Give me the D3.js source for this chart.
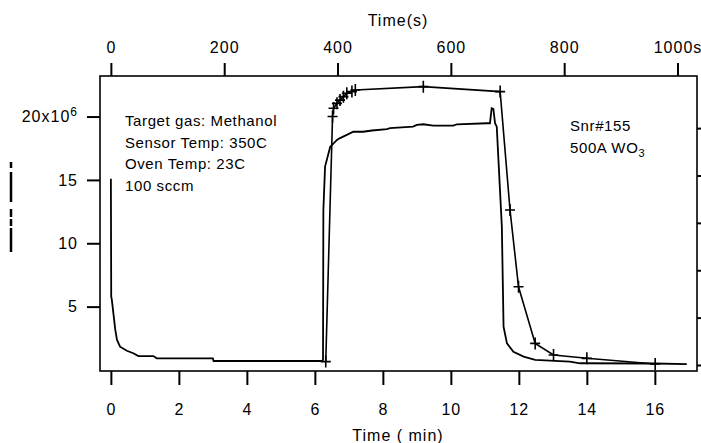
<!DOCTYPE html>
<html>
<head>
<meta charset="utf-8">
<script src="https://cdn.jsdelivr.net/npm/d3@7"></script>
<style>
  body { margin: 0; background: #fff; }
  svg { font-family: "Liberation Sans", Arial, sans-serif; }
  .axis path.domain { display: none; }
  .axis line { stroke: #000; stroke-width: 2; }
  .axis text { font-size: 16px; fill: #000; letter-spacing: 1px; }
</style>
</head>
<body>
<svg id="chart" width="701" height="443"></svg>
<script>
// sensor response without markers (time in min, value in units of 1e6)
var respTime = [0, 0.01, 0.03, 0.13, 0.18, 0.27, 0.47, 0.66, 0.81, 1.25,
  1.35, 3.0, 3.02, 6.2, 6.24, 6.25, 6.3, 6.45, 6.65, 6.74,
  6.94, 7.13, 7.42, 7.68, 8.12, 8.21, 8.89, 9.0, 9.19, 9.48,
  10.07, 10.18, 11.06, 11.15, 11.2, 11.25, 11.3, 11.35, 11.5, 11.55,
  11.65, 11.84, 12.14, 12.48, 13.5, 13.8, 16.0, 16.94];
var respValue = [15.1, 5.8, 5.5, 3.16, 2.37, 1.84, 1.52, 1.32, 1.1, 1.1,
  0.92, 0.92, 0.71, 0.71, 0.79, 12.6, 16.05, 17.6, 18.15, 18.3,
  18.55, 18.8, 18.8, 18.9, 19.0, 19.08, 19.2, 19.34, 19.39, 19.28,
  19.28, 19.39, 19.47, 19.47, 20.65, 20.6, 19.47, 19.2, 11.3, 3.42,
  2.1, 1.44, 1.05, 0.79, 0.66, 0.53, 0.51, 0.47];

// series drawn with + markers
var markTime = [6.32, 6.52, 6.55, 6.65, 6.74, 6.84, 6.94, 7.09, 7.19, 9.19,
  11.45, 11.74, 11.99, 12.48, 13.02, 14.0, 16.01];
var markValue = [0.66, 20.0, 20.65, 21.04, 21.3, 21.57, 21.84, 21.97, 22.1, 22.36,
  21.97, 12.63, 6.57, 2.1, 1.18, 0.92, 0.47];

var minTicks = [0, 2, 4, 6, 8, 10, 12, 14, 16];
var secTicks = [0, 200, 400, 600, 800, 1000];
var leftTicks = [5, 10, 15, 20];
var rightTicks = [0, 1, 2, 3, 4, 5];

var infoLines = ["Target gas: Methanol", "Sensor Temp: 350C", "Oven Temp: 23C", "100 sccm"];

var svg = d3.select("#chart");
var frame = {left: 100, right: 697, top: 76, bottom: 371};

var x = d3.scaleLinear().domain([-0.32, 17.24]).range([frame.left, frame.right]);
var xTop = d3.scaleLinear().domain([-0.32 * 60, 17.24 * 60]).range([frame.left, frame.right]);
var y = d3.scaleLinear().domain([-0.08, 23.2]).range([frame.bottom, frame.top]);
var yRight = d3.scaleLinear().domain([-0.127, 6.1]).range([frame.bottom, frame.top]);

// axes
svg.append("g")
  .attr("class", "axis")
  .attr("transform", "translate(0," + frame.bottom + ")")
  .call(d3.axisBottom(x).tickValues(minTicks).tickSize(14).tickPadding(19));

svg.append("g")
  .attr("class", "axis")
  .attr("transform", "translate(0," + frame.top + ")")
  .call(d3.axisTop(xTop).tickValues(secTicks).tickSize(13).tickPadding(10)
    .tickFormat(function(d) { return d == 1000 ? "1000s" : d; }));

var gLeft = svg.append("g")
  .attr("class", "axis")
  .attr("transform", "translate(" + frame.left + ",0)")
  .call(d3.axisLeft(y).tickValues(leftTicks).tickSize(13).tickPadding(9));
gLeft.selectAll(".tick text")
  .filter(function(d) { return d == 20; })
  .text("20x10")
  .append("tspan")
    .attr("dy", "-0.55em")
    .style("font-size", "12px")
    .text("6");

svg.append("g")
  .attr("class", "axis")
  .attr("transform", "translate(" + frame.right + ",0)")
  .call(d3.axisRight(yRight).tickValues(rightTicks).tickSize(4).tickFormat(""));

// frame
svg.append("rect")
  .attr("x", frame.left).attr("y", frame.top)
  .attr("width", frame.right - frame.left)
  .attr("height", frame.bottom - frame.top)
  .attr("fill", "none").attr("stroke", "#000").attr("stroke-width", 1.6);

// axis titles
svg.append("text")
  .attr("x", 398).attr("y", 26)
  .attr("text-anchor", "middle")
  .style("font-size", "16px").style("letter-spacing", "1px")
  .text("Time(s)");
svg.append("text")
  .attr("x", 398).attr("y", 441)
  .attr("text-anchor", "middle")
  .style("font-size", "16px").style("letter-spacing", "1px")
  .text("Time ( min)");

// illegible rotated y label from the scan
svg.append("line")
  .attr("x1", 11).attr("x2", 11).attr("y1", 162).attr("y2", 252)
  .attr("stroke", "#000").attr("stroke-width", 2.5)
  .attr("stroke-dasharray", "6,4,30,7,8,2,7,2,24");

// data lines
var line = d3.line()
  .x(function(d) { return x(d[0]); })
  .y(function(d) { return y(d[1]); });

var resp = respTime.map(function(t, i) { return [t, respValue[i]]; });
var mark = markTime.map(function(t, i) { return [t, markValue[i]]; });

svg.append("path")
  .datum(resp)
  .attr("d", line)
  .attr("fill", "none").attr("stroke", "#000").attr("stroke-width", 1.8);

svg.append("path")
  .datum(mark)
  .attr("d", line)
  .attr("fill", "none").attr("stroke", "#000").attr("stroke-width", 1.6);

svg.selectAll(".marker")
  .data(mark)
  .enter().append("path")
  .attr("class", "marker")
  .attr("transform", function(d) { return "translate(" + x(d[0]) + "," + y(d[1]) + ")"; })
  .attr("d", "M-5,0H5M0,-6V6")
  .attr("stroke", "#000").attr("stroke-width", 1.6);

// annotations
svg.selectAll(".info")
  .data(infoLines)
  .enter().append("text")
  .attr("class", "info")
  .attr("x", 125)
  .attr("y", function(d, i) { return 126 + i * 21.5; })
  .style("font-size", "15px").style("letter-spacing", "0.6px")
  .text(function(d) { return d; });

svg.append("text")
  .attr("x", 570).attr("y", 131)
  .style("font-size", "15px").style("letter-spacing", "0.6px")
  .text("Snr#155");
var wo = svg.append("text")
  .attr("x", 570).attr("y", 153)
  .style("font-size", "15px").style("letter-spacing", "0.6px")
  .text("500A WO");
wo.append("tspan").attr("dy", "4").style("font-size", "11px").text("3");
</script>
</body>
</html>
